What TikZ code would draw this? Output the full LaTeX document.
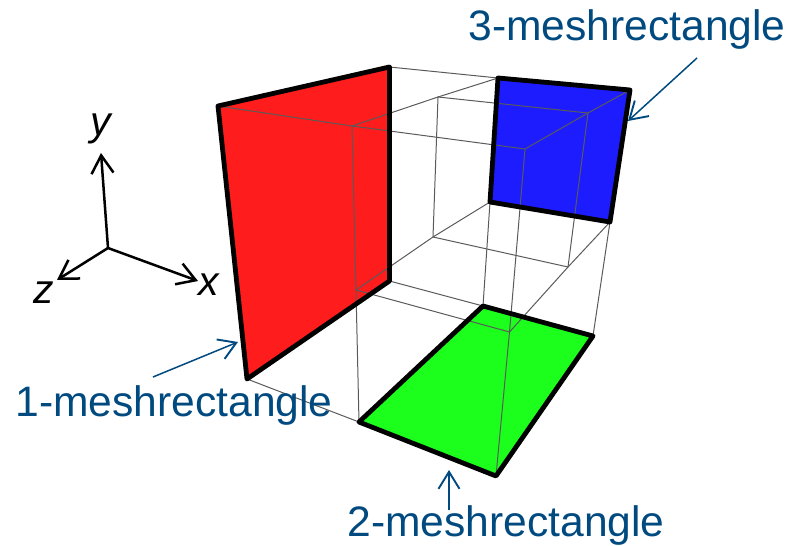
\documentclass[tikz,border=0pt]{standalone}
\usepackage{fontspec}
\setmainfont{Liberation Sans}
\usetikzlibrary{arrows.meta}
\definecolor{labelblue}{HTML}{004A7F}
\definecolor{redface}{HTML}{FF1C1C}
\definecolor{blueface}{HTML}{1C1CFF}
\definecolor{greenface}{HTML}{1CFF1C}
\definecolor{wire}{HTML}{5A5A5A}
\tikzset{
  wireline/.style={draw=wire,line width=1pt},
  faceedge/.style={draw=black,line width=4.8pt,line join=round},
  axisline/.style={draw=black,line width=2.5pt,-{Straight Barb[length=18pt,width=22pt,line width=2.5pt]}},
  axislabel/.style={font=\itshape\fontsize{41}{41}\selectfont,text=black,inner sep=0pt},
  meshlabel/.style={font=\fontsize{42.6}{43}\selectfont,text=labelblue,inner sep=0pt,anchor=base},
  pointer/.style={draw=labelblue,line width=1.5pt,-{Straight Barb[length=17pt,width=21pt,line width=1.9pt]}}
}
\begin{document}
\begin{tikzpicture}[x=1pt,y=-1pt]
\useasboundingbox (0,0) rectangle (796,546);
% face corners
\coordinate (r1) at (218,106);
\coordinate (r2) at (389.5,67);
\coordinate (r3) at (389.5,281);
\coordinate (r4) at (247,379);
\coordinate (b1) at (498,78);
\coordinate (b2) at (630,90);
\coordinate (b3) at (610,222);
\coordinate (b4) at (490,202);
\coordinate (g1) at (483,306);
\coordinate (g2) at (593,336);
\coordinate (g3) at (496,476);
\coordinate (g4) at (359,422);
% wire-frame corners
\coordinate (t1) at (352,126);
\coordinate (t2) at (525,149);
\coordinate (t3) at (438,97);
\coordinate (t4) at (588,113);
\coordinate (m1) at (433,237);
\coordinate (m2) at (568,267);
\coordinate (m3) at (356,290);
\coordinate (m4) at (509.5,332);
% faces
\fill[redface] (r1) -- (r2) -- (r3) -- (r4) -- cycle;
\fill[blueface] (b1) -- (b2) -- (b3) -- (b4) -- cycle;
\fill[greenface] (g1) -- (g2) -- (g3) -- (g4) -- cycle;
% wires
\draw[wireline] (r2) -- (b1);
\draw[wireline] (r1) -- (t1) -- (t2) -- (t4) -- (b2);
\draw[wireline] (t1) -- (t3) -- (b1);
\draw[wireline] (t3) -- (t4) -- (m2) -- (m1) -- cycle;
\draw[wireline] (t1) -- (m3) -- (g4);
\draw[wireline] (t2) -- (m4) -- (g3);
\draw[wireline] (m3) -- (m1) -- (b4) -- (g1);
\draw[wireline] (m3) -- (m4) -- (m2) -- (b3) -- (g2);
\draw[wireline] (r3) -- (g1);
\draw[wireline] (r4) -- (g4);
% outlines
\draw[faceedge] (r1) -- (r2) -- (r3) -- (r4) -- cycle;
\draw[faceedge] (b1) -- (b2) -- (b3) -- (b4) -- cycle;
\draw[faceedge] (g1) -- (g2) -- (g3) -- (g4) -- cycle;
% axes
\coordinate (origin) at (108,248);
\node[axislabel] (ylab) at (101,129) {y};
\node[axislabel] (xlab) at (209,285) {x};
\node[axislabel] (zlab) at (44,293) {z};
\coordinate (ytip) at (101,153);
\coordinate (xtip) at (198,281);
\coordinate (ztip) at (57,280);
\draw[axisline] (origin) -- (ytip);
\draw[axisline] (origin) -- (xtip);
\draw[axisline] (origin) -- (ztip);
% labels
\node[meshlabel] (l3) at (627,41) {3-meshrectangle};
\node[meshlabel] (l1) at (174,416) {1-meshrectangle};
\node[meshlabel] (l2) at (506,536) {2-meshrectangle};
\coordinate (s3) at (697,58);
\coordinate (e3) at (628,121);
\coordinate (s1) at (153,377);
\coordinate (e1) at (238,342);
\coordinate (s2) at (449,510);
\coordinate (e2) at (449,470);
\draw[pointer] (s3) -- (e3);
\draw[pointer] (s1) -- (e1);
\draw[pointer] (s2) -- (e2);
\end{tikzpicture}
\end{document}
